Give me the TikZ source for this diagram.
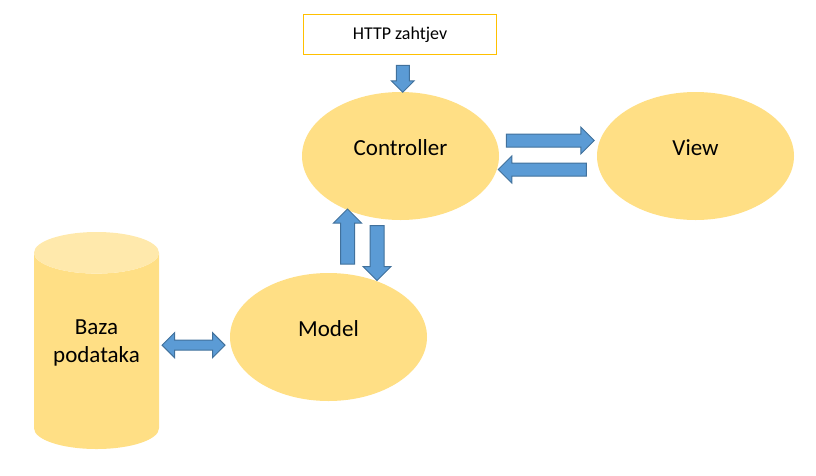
\documentclass[tikz,border=0pt]{standalone}
\usepackage{fontspec}
\setmainfont{Carlito}
\usetikzlibrary{shapes.geometric,shapes.arrows,calc}

\definecolor{gold}{HTML}{FFDF85}
\definecolor{goldtop}{HTML}{FFE9AC}
\definecolor{boxline}{HTML}{FFC000}
\definecolor{arrowfill}{HTML}{5B9BD5}
\definecolor{arrowline}{HTML}{41719C}

\begin{document}
\begin{tikzpicture}[x=1pt,y=-1pt,
	part/.style={ellipse,fill=gold,minimum width=197pt,minimum height=128pt,inner sep=0pt,
		font=\fontsize{23}{28}\selectfont,text depth=17pt},
	request/.style={draw=boxline,line width=1.5pt,minimum width=193pt,minimum height=40pt,
		inner sep=0pt,font=\fontsize{18}{22}\selectfont},
	store/.style={cylinder,shape border rotate=90,aspect=0.48,minimum width=125pt,minimum height=217pt,
		cylinder uses custom fill,cylinder body fill=gold,cylinder end fill=goldtop,
		inner sep=0pt,align=center,font=\fontsize{23}{28.5}\selectfont,text depth=20pt},
	blockarrow/.style={single arrow,fill=arrowfill,draw=arrowline,line width=1pt,
		inner xsep=0pt,inner ysep=6pt,single arrow head extend=7pt,minimum height=#1},
	twoway/.style={double arrow,fill=arrowfill,draw=arrowline,line width=1pt,
		inner xsep=0pt,inner ysep=4.5pt,double arrow head extend=7.5pt,minimum height=#1}
]
	\useasboundingbox (0,0) rectangle (816,475);

	\node[request] (http) at (400,34.5) {HTTP zahtjev};
	\node[part] (ctrl) at (400.5,156) {Controller};
	\node[part] (view) at (695.5,156) {View};
	\node[part] (model) at (328.5,337) {Model};
	\node[store,anchor=shape center] (db) at (96.5,340.5) {Baza\\podataka};

	% request into the controller
	\node[blockarrow=27pt,rotate=-90,single arrow head extend=5pt] (in) at ($(http.south)!0.5!(ctrl.north)+(2.5,2)$) {};

	% controller <-> view
	\node[blockarrow=88pt] (toview) at ($(ctrl.east)!0.5!(view.west)+(-1,-15.5)$) {};
	\node[blockarrow=88pt,rotate=180] (fromview) at ($(ctrl.east)!0.5!(view.west)+(-2.5,13.5)$) {};

	% controller <-> model
	\node[blockarrow=55pt,rotate=90,inner ysep=6.5pt] (tomodelup) at ($(ctrl.south)!0.5!(model.north)+(-17,-6.5)$) {};
	\node[blockarrow=55pt,rotate=-90,inner ysep=6.5pt] (tomodeldown) at ($(ctrl.south)!0.5!(model.north)+(12.5,3)$) {};

	% model <-> database
	\node[twoway=63pt] (dblink) at ($(db.east)!0.5!(model.west)+(-1,1.2)$) {};
\end{tikzpicture}
\end{document}
